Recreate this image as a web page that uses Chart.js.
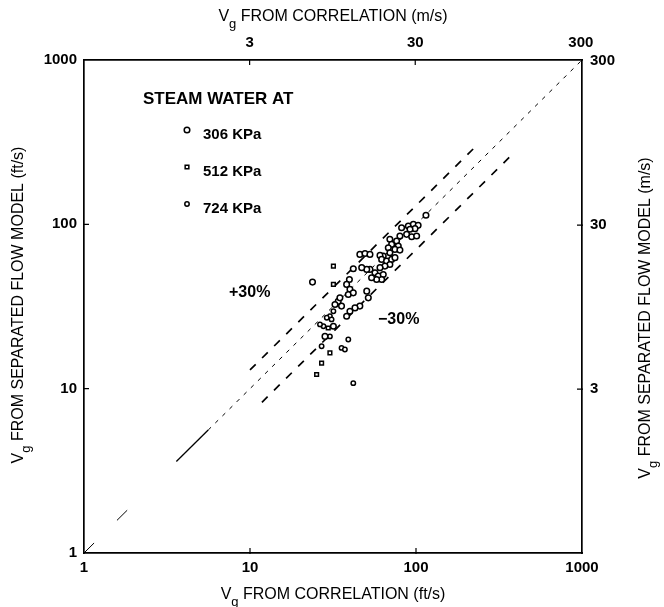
<!DOCTYPE html>
<html>
<head>
<meta charset="utf-8">
<script src="https://cdn.jsdelivr.net/npm/chart.js@4"></script>
<style>
  body { margin: 0; background: #fff; }
  #wrap { width: 664px; height: 607px; }
</style>
</head>
<body>
<div id="wrap"><canvas id="myChart" width="664" height="607"></canvas></div>
<script>
// Tick values for the four axes
const ftTicks = [1, 10, 100, 1000];
const msTicks = [3, 30, 300];

// Steam water at 306 KPa
const s306X = [114.8, 81.9, 89.9, 96.4, 103, 98.6, 92.0, 80.0, 87.8, 94.2, 100.9, 69.6, 76.4, 71.3, 78.2, 74.7, 80.0, 68.1, 69.6, 63.5,
  60.7, 62.1, 66.5, 71.3, 74.7, 69.6, 65.0, 60.7, 56.6, 59.3, 63.5, 62.1, 57.9, 54.0, 52.8, 50.5, 47.1, 41.9, 45.9, 49.3,
  52.8, 23.8, 39.7, 38.2, 40.0, 39.1, 41.9, 50.5, 51.6, 45.9, 42.9, 40.0, 38.2, 35.6, 34.0, 34.8, 32.5, 31.8, 28.3];
const s306Y = [113.5, 95.3, 97.7, 100, 98.6, 94.1, 93.3, 84.9, 86.9, 84.1, 84.9, 81.1, 79.1, 75.5, 73.8, 70.4, 69.7, 72.1, 67.2, 64.1,
  64.7, 61.2, 59.7, 61.2, 62.7, 57.0, 55.7, 54.5, 50.7, 48.4, 49.5, 46.2, 46.2, 47.3, 53.2, 53.2, 54.5, 53.7, 65.6, 66.5,
  65.6, 44.5, 46.2, 43.1, 40.2, 37.4, 38.3, 39.2, 35.7, 31.8, 31.0, 29.6, 27.6, 31.8, 34.0, 35.7, 32.5, 24.0, 20.8];

// Steam water at 512 KPa
const s512X = [31.8, 31.8, 29.6, 30.3, 27.0, 25.2];
const s512Y = [55.7, 43.1, 23.4, 16.5, 14.3, 12.2];

// Steam water at 724 KPa
const s724X = [27.7, 26.4, 30.3, 39.1, 35.6, 37.3, 27.0, 41.9, 31.8, 30.3, 29.0, 31.0];
const s724Y = [24.0, 24.6, 20.8, 19.9, 17.7, 17.3, 18.1, 10.8, 29.6, 27.6, 27.0, 26.4];

// Equality line, drawn in pieces as in the original figure
const eqDash1X = [1.0, 1.15];
const eqDash2X = [1.58, 1.82];
const eqSolidX = [3.6, 5.6];
const eqThinX = [5.6, 1000];
// +/-30 % bands
const upperX = [10, 226];
const upperY = [13, 294];
const lowerX = [11.8, 368];
const lowerY = [8.26, 258];

const FT_TO_M = 0.3048;
const font = "'Liberation Sans', Arial, sans-serif";

function pairs(xs, ys) {
    return xs.map((x, i) => ({ x: x, y: ys[i] }));
}

function lineSet(xs, ys, dash, width) {
    return {
        type: 'line',
        data: pairs(xs, ys),
        borderColor: '#000',
        borderWidth: width,
        borderDash: dash,
        pointRadius: 0,
        fill: false,
        showLine: true,
        order: 2
    };
}

function pointSet(label, xs, ys, style, radius) {
    return {
        label: label,
        data: pairs(xs, ys),
        pointStyle: style,
        pointRadius: radius,
        pointBackgroundColor: '#fff',
        pointBorderColor: '#000',
        pointBorderWidth: 1.5,
        showLine: false,
        order: 1
    };
}

// Draw "V" with a subscript "g" followed by the rest of the title
function drawSubTitle(ctx, text, cx, cy, angle, size) {
    ctx.save();
    ctx.translate(cx, cy);
    ctx.rotate(angle);
    ctx.fillStyle = '#000';
    ctx.textBaseline = 'middle';
    ctx.textAlign = 'left';
    const big = size + 'px ' + font;
    const small = Math.round(size * 0.8) + 'px ' + font;
    ctx.font = big;
    const wV = ctx.measureText('V').width;
    const wRest = ctx.measureText(text).width;
    ctx.font = small;
    const wg = ctx.measureText('g').width;
    let x = -(wV + wg + wRest) / 2;
    ctx.font = big;
    ctx.fillText('V', x, 0);
    x += wV;
    ctx.font = small;
    ctx.fillText('g', x, size * 0.45);
    x += wg;
    ctx.font = big;
    ctx.fillText(text, x, 0);
    ctx.restore();
}

const decorations = {
    id: 'decorations',
    afterDraw(chart) {
        const ctx = chart.ctx;
        const s = chart.scales;

        // inward tick marks
        ctx.save();
        ctx.strokeStyle = '#000';
        ctx.lineWidth = 1.2;
        ctx.beginPath();
        [10, 100].forEach(v => {
            const px = s.x.getPixelForValue(v);
            ctx.moveTo(px, s.x.top + 1); ctx.lineTo(px, s.x.top - 5);
            const py = s.y.getPixelForValue(v);
            ctx.moveTo(s.y.right - 1, py); ctx.lineTo(s.y.right + 5, py);
        });
        [3, 30].forEach(v => {
            const px = s.x2.getPixelForValue(v);
            ctx.moveTo(px, s.x2.bottom - 1); ctx.lineTo(px, s.x2.bottom + 5);
            const py = s.y2.getPixelForValue(v);
            ctx.moveTo(s.y2.left + 1, py); ctx.lineTo(s.y2.left - 5, py);
        });
        ctx.stroke();
        ctx.restore();

        // axis titles
        const mid = (chart.chartArea.left + chart.chartArea.right) / 2;
        drawSubTitle(ctx, ' FROM CORRELATION (m/s)', mid, 17, 0, 16);
        drawSubTitle(ctx, ' FROM CORRELATION (ft/s)', mid, 595, 0, 16);
        drawSubTitle(ctx, ' FROM SEPARATED FLOW MODEL (ft/s)', 19, 305, -Math.PI / 2, 16);
        drawSubTitle(ctx, ' FROM SEPARATED FLOW MODEL (m/s)', 646, 318, -Math.PI / 2, 16);

        // legend block
        ctx.save();
        ctx.textBaseline = 'middle';
        ctx.textAlign = 'left';
        ctx.fillStyle = '#000';
        ctx.font = 'bold 17px ' + font;
        ctx.fillText('STEAM WATER AT', 143, 99);
        const entries = chart.data.datasets.filter(d => d.label);
        entries.forEach((d, i) => {
            const y = 135 + i * 37;
            ctx.fillStyle = '#000';
            ctx.font = 'bold 15px ' + font;
            ctx.fillText(d.label, 203, y);
            ctx.fillStyle = '#fff';
            ctx.strokeStyle = '#000';
            ctx.lineWidth = d.pointBorderWidth;
            Chart.helpers.drawPoint(ctx, {
                pointStyle: d.pointStyle,
                radius: d.pointRadius,
                borderWidth: d.pointBorderWidth
            }, 187, y - 5);
        });
        ctx.restore();

        // band labels
        ctx.save();
        ctx.fillStyle = '#000';
        ctx.textBaseline = 'middle';
        ctx.font = 'bold 16px ' + font;
        ctx.textAlign = 'left';
        ctx.fillText('+30%', 229, 293);
        ctx.fillText('\u221230%', 378, 320);
        ctx.restore();
    }
};

const tickFont = { family: font, size: 15, weight: 'bold' };

const ctx = document.getElementById('myChart').getContext('2d');
const myChart = new Chart(ctx, {
    type: 'scatter',
    data: {
        datasets: [
            pointSet('306 KPa', s306X, s306Y, 'circle', 2.8),
            pointSet('512 KPa', s512X, s512Y, 'rect', 2.6),
            pointSet('724 KPa', s724X, s724Y, 'circle', 2.2),
            lineSet(eqDash1X, eqDash1X, [], 1),
            lineSet(eqDash2X, eqDash2X, [], 1),
            lineSet(eqSolidX, eqSolidX, [], 1.3),
            lineSet(eqThinX, eqThinX, [4, 6], 1),
            lineSet(upperX, upperY, [8, 9], 1.7),
            lineSet(lowerX, lowerY, [8, 9], 1.7)
        ]
    },
    options: {
        responsive: false,
        animation: false,
        layout: { padding: 0 },
        plugins: {
            legend: { display: false },
            tooltip: { enabled: false }
        },
        scales: {
            x: {
                type: 'logarithmic',
                position: 'bottom',
                min: 1,
                max: 1000,
                afterBuildTicks: sc => { sc.ticks = ftTicks.map(v => ({ value: v })); },
                afterFit: sc => { sc.height = 54; },
                ticks: { color: '#000', font: tickFont, padding: 6, maxRotation: 0, autoSkip: false, callback: v => String(v) },
                grid: { display: false, drawTicks: false },
                border: { display: true, color: '#000', width: 1.7 }
            },
            x2: {
                type: 'logarithmic',
                position: 'top',
                min: 1 * FT_TO_M,
                max: 1000 * FT_TO_M,
                afterBuildTicks: sc => { sc.ticks = msTicks.map(v => ({ value: v })); },
                afterFit: sc => { sc.height = 60; },
                ticks: { color: '#000', font: tickFont, padding: 8, maxRotation: 0, autoSkip: false, callback: v => String(v) },
                grid: { display: false, drawTicks: false },
                border: { display: true, color: '#000', width: 1.7 }
            },
            y: {
                type: 'logarithmic',
                position: 'left',
                min: 1,
                max: 1000,
                afterBuildTicks: sc => { sc.ticks = ftTicks.map(v => ({ value: v })); },
                afterFit: sc => { sc.width = 84; },
                ticks: { color: '#000', font: tickFont, padding: 7, autoSkip: false, callback: v => String(v) },
                grid: { display: false, drawTicks: false },
                border: { display: true, color: '#000', width: 1.7 }
            },
            y2: {
                type: 'logarithmic',
                position: 'right',
                min: 1 * FT_TO_M,
                max: 1000 * FT_TO_M,
                afterBuildTicks: sc => { sc.ticks = msTicks.map(v => ({ value: v })); },
                afterFit: sc => { sc.width = 82; },
                ticks: { color: '#000', font: tickFont, padding: 8, autoSkip: false, callback: v => String(v) },
                grid: { display: false, drawTicks: false },
                border: { display: true, color: '#000', width: 1.7 }
            }
        }
    },
    plugins: [decorations]
});
</script>
</body>
</html>
